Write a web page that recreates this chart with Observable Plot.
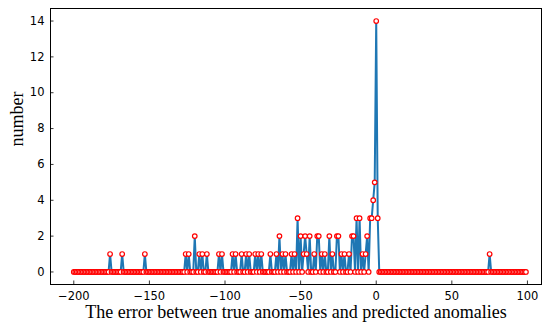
<!DOCTYPE html>
<html>
<head>
<meta charset="utf-8">
<script src="https://cdn.jsdelivr.net/npm/d3@7"></script>
<script src="https://cdn.jsdelivr.net/npm/@observablehq/plot@0.6"></script>
<style>
  html, body { margin: 0; padding: 0; background: #fff; }
  #chart svg { display: block; }
</style>
</head>
<body>
<div id="chart"></div>
<script>
// Error values shown on the x axis (one point per integer error)
const errorStart = -200;
const errorEnd = 99;
// Non-zero counts (all other errors have count 0)
const nonzeroErrors = [-176, -168, -153, -126, -124, -120, -117, -115, -112, -104, -102, -95, -93,
  -89, -86, -84, -80, -78, -76, -70, -66, -64, -62, -60, -56, -54, -52, -50, -48, -47, -46, -44,
  -41, -39, -38, -36, -34, -31, -29, -26, -25, -23, -21, -18, -16, -15, -13, -11, -9, -7, -6,
  -4, -3, -2, -1, 0, 1, 75];
const nonzeroCounts = [1, 1, 1, 1, 1, 2, 1, 1, 1, 1, 1, 1, 1,
  1, 1, 1, 1, 1, 1, 1, 1, 2, 1, 1, 1, 1, 3, 2, 1, 2, 1, 2,
  1, 2, 2, 1, 1, 2, 1, 2, 2, 1, 1, 1, 2, 2, 3, 3, 1, 1, 2,
  3, 3, 4, 5, 14, 3, 1];
const xTicks = [-200, -150, -100, -50, 0, 50, 100];
const yTicks = [0, 2, 4, 6, 8, 10, 12, 14];
const xLabel = "The error between true anomalies and predicted anomalies";
const yLabel = "number";

const countMap = new Map(nonzeroErrors.map((e, i) => [e, nonzeroCounts[i]]));
const data = d3.range(errorStart, errorEnd + 1).map(e => ({error: e, count: countMap.get(e) ?? 0}));

const W = 544, H = 322;
const mL = 50, mR = 3, mT = 8, mB = 38;
const plotW = W - mL - mR, plotH = H - mT - mB;
const fmt = d => d < 0 ? "\u2212" + Math.abs(d) : String(d);

const chart = Plot.plot({
  width: W,
  height: H,
  marginLeft: mL,
  marginRight: mR,
  marginTop: mT,
  marginBottom: mB,
  style: {background: "#fff", color: "#000", overflow: "visible"},
  x: {domain: [-215.4, 109.3]},
  y: {domain: [-0.7, 14.7]},
  marks: [
    Plot.line(data, {x: "error", y: "count", stroke: "#1f77b4", strokeWidth: 2}),
    Plot.dot(data, {x: "error", y: "count", r: 2.3, stroke: "red", fill: "white", strokeWidth: 1.2}),
    Plot.frame({stroke: "#000", strokeWidth: 1}),
    Plot.ruleX(xTicks, {x: d => d, insetTop: plotH - 3.5, stroke: "#000", strokeWidth: 0.8}),
    Plot.ruleY(yTicks, {y: d => d, insetRight: plotW - 3.5, stroke: "#000", strokeWidth: 0.8}),
    Plot.axisX({ticks: xTicks, tickSize: 0, tickPadding: 7, tickFormat: fmt, label: null,
      fontSize: 11.5, fontFamily: "DejaVu Sans"}),
    Plot.axisY({ticks: yTicks, tickSize: 0, tickPadding: 6, tickFormat: fmt, label: null,
      fontSize: 11.5, fontFamily: "DejaVu Sans"}),
    Plot.text([xLabel], {text: d => d, frameAnchor: "bottom", dy: 28, lineAnchor: "middle",
      fontFamily: "Liberation Serif", fontSize: 18, fill: "#000"}),
    Plot.text([yLabel], {text: d => d, frameAnchor: "left", dx: -33, rotate: -90, lineAnchor: "middle",
      fontFamily: "Liberation Serif", fontSize: 18, fill: "#000"})
  ]
});
document.getElementById("chart").appendChild(chart);
</script>
</body>
</html>
